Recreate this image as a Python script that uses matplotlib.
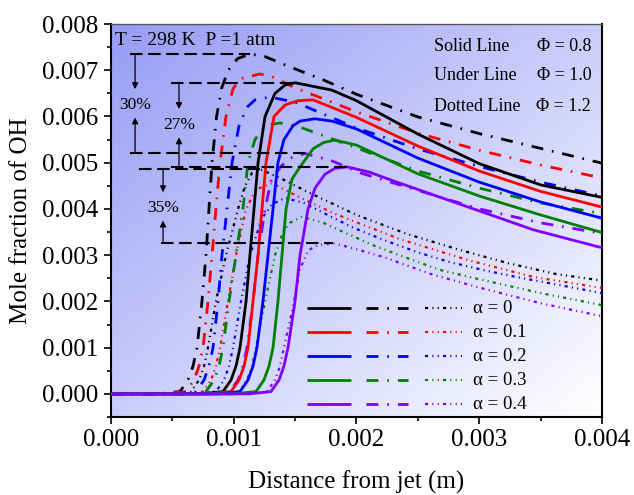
import numpy as np
import matplotlib
matplotlib.use("Agg")
import matplotlib.pyplot as plt
from matplotlib.ticker import MultipleLocator, FormatStrFormatter

plt.rcParams['font.family'] = ['Liberation Serif', 'DejaVu Serif']

# distance in mm (plotted in m), OH mole fraction in units of 1e-3
# Phi = 0.8 (solid lines)
x08_a0 = [0, 0.733, 0.912, 0.978, 1.018, 1.051, 1.100, 1.132, 1.165, 1.198, 1.255, 1.336, 1.418, 1.499, 1.80, 2.0, 2.5, 3.0, 3.5, 4.0]
y08_a0 = [0, 0, 0.05, 0.3, 0.6, 1.0, 2.0, 3.0, 4.0, 5.0, 6.0, 6.5, 6.68, 6.73, 6.57, 6.34, 5.62, 4.98, 4.52, 4.25]
x08_a1 = [0, 0.798, 0.978, 1.043, 1.084, 1.116, 1.157, 1.198, 1.230, 1.263, 1.328, 1.418, 1.523, 1.646, 2.0, 2.5, 3.0, 3.5, 4.0]
y08_a1 = [0, 0, 0.05, 0.3, 0.6, 1.0, 2.0, 3.0, 4.0, 5.0, 6.0, 6.25, 6.34, 6.36, 5.98, 5.36, 4.82, 4.38, 4.04]
x08_a2 = [0, 0.872, 1.051, 1.116, 1.157, 1.189, 1.238, 1.279, 1.320, 1.360, 1.409, 1.483, 1.540, 1.66, 1.8, 2.0, 2.5, 3.0, 3.5, 4.0]
y08_a2 = [0, 0, 0.05, 0.3, 0.6, 1.0, 2.0, 3.0, 4.0, 5.0, 5.5, 5.8, 5.9, 5.95, 5.90, 5.73, 5.10, 4.58, 4.15, 3.80]
x08_a3 = [0, 1.002, 1.181, 1.246, 1.287, 1.320, 1.360, 1.393, 1.426, 1.475, 1.540, 1.646, 1.735, 1.825, 2.0, 2.5, 3.0, 3.5, 4.0]
y08_a3 = [0, 0, 0.05, 0.3, 0.6, 1.0, 2.0, 3.0, 4.0, 4.65, 4.91, 5.3, 5.44, 5.49, 5.38, 4.76, 4.28, 3.87, 3.49]
x08_a4 = [0, 1.124, 1.303, 1.369, 1.409, 1.442, 1.499, 1.540, 1.605, 1.662, 1.743, 1.825, 1.923, 2.1, 2.35, 2.9, 3.44, 4.0]
y08_a4 = [0, 0, 0.05, 0.3, 0.6, 1.0, 2.0, 3.0, 4.0, 4.45, 4.75, 4.88, 4.91, 4.80, 4.56, 4.05, 3.55, 3.16]

# Phi = 1.0 (dash-dot lines)
x10_a0 = [0, 0.383, 0.562, 0.627, 0.668, 0.701, 0.741, 0.774, 0.798, 0.823, 0.860, 0.900, 0.955, 1.030, 1.132, 1.25, 1.46, 1.73, 2.0, 2.5, 3.0, 3.5, 4.0]
y10_a0 = [0, 0, 0.05, 0.3, 0.6, 1.0, 2.0, 3.0, 4.0, 5.0, 6.0, 6.6, 7.0, 7.25, 7.35, 7.30, 7.07, 6.79, 6.48, 5.99, 5.63, 5.31, 4.99]
x10_a1 = [0, 0.432, 0.611, 0.676, 0.717, 0.750, 0.790, 0.823, 0.855, 0.888, 0.937, 0.994, 1.059, 1.214, 1.32, 1.5, 1.78, 2.0, 2.5, 3.0, 3.5, 4.0]
y10_a1 = [0, 0, 0.05, 0.3, 0.6, 1.0, 2.0, 3.0, 4.0, 5.0, 6.0, 6.6, 6.82, 6.92, 6.85, 6.62, 6.33, 6.10, 5.64, 5.27, 4.95, 4.67]
x10_a2 = [0, 0.513, 0.692, 0.758, 0.798, 0.831, 0.872, 0.904, 0.945, 0.986, 1.043, 1.108, 1.173, 1.295, 1.5, 2.0, 2.5, 3.0, 3.5, 4.0]
y10_a2 = [0, 0, 0.05, 0.3, 0.6, 1.0, 2.0, 3.0, 4.0, 5.0, 5.8, 6.2, 6.36, 6.42, 6.31, 5.75, 5.30, 4.92, 4.58, 4.28]
x10_a3 = [0, 0.595, 0.774, 0.839, 0.880, 0.912, 0.961, 1.018, 1.075, 1.116, 1.173, 1.255, 1.377, 1.54, 2.0, 2.5, 3.0, 3.5, 4.0]
y10_a3 = [0, 0, 0.05, 0.3, 0.6, 1.0, 2.0, 3.0, 4.0, 5.0, 5.5, 5.8, 5.86, 5.77, 5.32, 4.82, 4.45, 4.13, 3.90]
x10_a4 = [0, 0.790, 0.969, 1.035, 1.075, 1.108, 1.157, 1.198, 1.255, 1.303, 1.377, 1.458, 1.580, 1.8, 2.03, 2.44, 3.0, 3.5, 4.0]
y10_a4 = [0, 0, 0.05, 0.3, 0.6, 1.0, 2.0, 3.0, 4.0, 4.6, 4.9, 5.1, 5.2, 5.04, 4.78, 4.45, 4.00, 3.70, 3.47]

# Phi = 1.2 (dotted lines)
x12_a0 = [0, 0.473, 0.652, 0.717, 0.758, 0.790, 0.855, 0.937, 1.035, 1.092, 1.149, 1.214, 1.4, 1.6, 2.0, 2.41, 2.82, 3.23, 3.63, 4.0]
y12_a0 = [0, 0, 0.05, 0.3, 0.6, 1.0, 2.0, 3.0, 4.0, 4.5, 4.78, 4.86, 4.64, 4.37, 3.87, 3.46, 3.13, 2.83, 2.59, 2.45]
x12_a1 = [0, 0.570, 0.750, 0.815, 0.855, 0.888, 0.953, 1.018, 1.100, 1.181, 1.312, 1.5, 1.81, 2.35, 2.9, 3.44, 4.0]
y12_a1 = [0, 0, 0.05, 0.3, 0.6, 1.0, 2.0, 3.0, 4.0, 4.42, 4.56, 4.30, 3.91, 3.35, 2.90, 2.53, 2.29]
x12_a2 = [0, 0.676, 0.855, 0.921, 0.961, 0.994, 1.059, 1.132, 1.230, 1.312, 1.418, 1.57, 1.96, 2.22, 2.49, 2.76, 3.03, 3.30, 4.0]
y12_a2 = [0, 0, 0.05, 0.3, 0.6, 1.0, 2.0, 3.0, 3.8, 4.1, 4.24, 4.13, 3.61, 3.33, 3.07, 2.85, 2.68, 2.53, 2.18]
x12_a3 = [0, 0.864, 1.043, 1.108, 1.149, 1.181, 1.255, 1.336, 1.401, 1.458, 1.556, 1.73, 1.87, 2.13, 2.41, 2.68, 2.95, 3.5, 4.0]
y12_a3 = [0, 0, 0.05, 0.3, 0.6, 1.0, 2.0, 3.0, 3.5, 3.7, 3.83, 3.70, 3.53, 3.22, 2.94, 2.68, 2.51, 2.18, 1.92]
x12_a4 = [0, 1.092, 1.271, 1.336, 1.377, 1.409, 1.491, 1.540, 1.605, 1.686, 1.809, 1.97, 2.22, 2.44, 2.62, 3.0, 3.5, 4.0]
y12_a4 = [0, 0, 0.05, 0.3, 0.6, 1.0, 2.0, 2.7, 3.1, 3.22, 3.26, 3.15, 2.96, 2.75, 2.58, 2.30, 1.96, 1.68]

alpha_labels = ['α = 0', 'α = 0.1', 'α = 0.2', 'α = 0.3', 'α = 0.4']
colors = ['#000000', '#ff0000', '#0000ff', '#008000', '#8000ff']
reductions = ['30%', '27%', '35%']

SCALE = 1e-3
styles = {
    '08': dict(ls='-', lw=2.0),
    '10': dict(ls=(0, (4.3, 3.2, 0.6, 3.2)), lw=2.0),
    '12': dict(ls=(0, (1.4, 1.9, 0.5, 1.9, 0.5, 1.9)), lw=1.6),
}
series = {
    '08': [(x08_a0, y08_a0), (x08_a1, y08_a1), (x08_a2, y08_a2), (x08_a3, y08_a3), (x08_a4, y08_a4)],
    '10': [(x10_a0, y10_a0), (x10_a1, y10_a1), (x10_a2, y10_a2), (x10_a3, y10_a3), (x10_a4, y10_a4)],
    '12': [(x12_a0, y12_a0), (x12_a1, y12_a1), (x12_a2, y12_a2), (x12_a3, y12_a3), (x12_a4, y12_a4)],
}

fig = plt.figure(figsize=(6.34, 4.95), dpi=100)
ax = fig.add_axes([0.1751, 0.1576, 0.7744, 0.7939])

# gradient background (blue top-left -> white bottom-right)
u = np.linspace(0, 1, 256)[None, :]
v = np.linspace(1, 0, 256)[:, None]
t = ((1 - u) + v) / 2
c_white = np.array([1.0, 1.0, 1.0])
c_blue = np.array([150, 156, 245]) / 255
img = c_white + (c_blue - c_white) * t[..., None]
ax.imshow(img, extent=[0, 1, 0, 1], transform=ax.transAxes, aspect='auto',
          zorder=0, interpolation='bilinear')

for key in ['12', '10', '08']:
    for (xs, ys), col in zip(series[key], colors):
        ax.plot(np.array(xs) * SCALE, np.array(ys) * SCALE, color=col,
                zorder=3, solid_capstyle='butt', **styles[key])

# peak reference lines and reduction arrows
def peak(xs, ys):
    i = int(np.argmax(ys))
    return xs[i] * SCALE, ys[i] * SCALE

groups = [('10', 0.155, 0.155, 0.196, 6.25), ('08', 0.49, 0.49, 0.554, 5.82), ('12', 0.23, 0.41, 0.424, 4.02)]
for (key, xs_top, xs_bot, xa, ty), lab in zip(groups, reductions):
    xt, yt = peak(*series[key][0])
    xb, yb = peak(*series[key][4])
    ax.plot([xs_top * SCALE, xt], [yt, yt], color='black', lw=1.5, ls=(0, (6, 2.7)), zorder=4)
    ax.plot([xs_bot * SCALE, xb], [yb, yb], color='black', lw=1.5, ls=(0, (6, 2.7)), zorder=4)
    xa = xa * SCALE
    ty = ty * SCALE
    ax.annotate('', xy=(xa, ty + 0.34e-3), xytext=(xa, yt),
                arrowprops=dict(arrowstyle='-|>', lw=0.9, color='black', mutation_scale=9, shrinkA=0, shrinkB=0), zorder=5)
    ax.annotate('', xy=(xa, ty - 0.27e-3), xytext=(xa, yb),
                arrowprops=dict(arrowstyle='-|>', lw=0.9, color='black', mutation_scale=9, shrinkA=0, shrinkB=0), zorder=5)
    ax.text(xa, ty, lab, ha='center', va='center', fontsize=12.5, zorder=5)

ax.set_xlim(0, 0.004)
ax.set_ylim(-0.0005, 0.008)
ax.xaxis.set_major_locator(MultipleLocator(0.001))
ax.xaxis.set_minor_locator(MultipleLocator(0.0005))
ax.yaxis.set_major_locator(MultipleLocator(0.001))
ax.yaxis.set_minor_locator(MultipleLocator(0.0005))
ax.xaxis.set_major_formatter(FormatStrFormatter('%.3f'))
ax.yaxis.set_major_formatter(FormatStrFormatter('%.3f'))
ax.tick_params(which='both', direction='out', top=False, right=False, width=1.2, labelsize=18, pad=4)
ax.tick_params(which='major', length=5)
ax.tick_params(which='minor', length=3)
for side in ['left', 'bottom', 'right']:
    ax.spines[side].set_linewidth(1.5)
ax.spines['top'].set_linewidth(1.0)
ax.spines['top'].set_color('#555555')

ax.set_xlabel('Distance from jet (m)', fontsize=18)
ax.set_ylabel('Mole fraction of OH', fontsize=18)
ax.xaxis.set_label_coords(0.5, -0.137)
ax.yaxis.set_label_coords(-0.16, 0.5)

ax.text(0.008, 0.959, 'T = 298 K  P =1 atm', transform=ax.transAxes, fontsize=14, va='center', zorder=6)
for (name, phi), yy in zip([('Solid Line', 'Φ = 0.8'), ('Under Line', 'Φ = 1.0'), ('Dotted Line', 'Φ = 1.2')],
                           [0.944, 0.868, 0.791]):
    ax.text(0.658, yy, name, transform=ax.transAxes, fontsize=13, va='center', zorder=6)
    ax.text(0.978, yy, phi, transform=ax.transAxes, fontsize=13, va='center', ha='right', zorder=6)

# custom legend: three line styles per alpha
rows_y = [0.277, 0.216, 0.155, 0.094, 0.033]
cols = [('08', 0.399, 0.489), ('10', 0.519, 0.605), ('12', 0.640, 0.715)]
for col, lab, yy in zip(colors, alpha_labels, rows_y):
    for key, x0, x1 in cols:
        ax.plot([x0, x1], [yy, yy], transform=ax.transAxes, color=col, zorder=6,
                solid_capstyle='butt', **styles[key])
    ax.text(0.737, yy, lab, transform=ax.transAxes, fontsize=13.5, va='center', zorder=6)

fig.savefig('out.png', dpi=100)
